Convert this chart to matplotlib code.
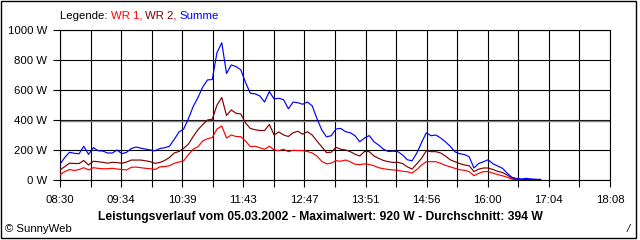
import matplotlib
matplotlib.use("Agg")
import matplotlib.pyplot as plt
from matplotlib.patches import Rectangle
import numpy as np

# ---- data (5-minute samples starting 08:30) ----
start_time = "08:30"
step_min = 5
summe = [105, 150, 185, 178, 175, 225, 171, 216, 195, 193, 180, 180, 200, 175, 185, 210, 220, 212, 206, 200,
         195, 210, 215, 225, 270, 320, 340, 410, 490, 550, 620, 667, 670, 850, 915, 710, 767, 756, 735, 650,
         578, 575, 560, 520, 590, 540, 545, 535, 475, 520, 515, 505, 520, 495, 410, 335, 288, 295, 340, 344,
         322, 315, 295, 255, 280, 296, 255, 232, 205, 190, 192, 189, 167, 135, 128, 180, 250, 315, 295, 300,
         280, 255, 225, 188, 175, 170, 155, 80, 110, 122, 135, 108, 93, 78, 45, 18, 10, 7, 11, 7, 5, 4]
wr2 = [67, 89, 112, 110, 110, 130, 100, 125, 122, 118, 112, 118, 116, 111, 120, 133, 133, 133, 128, 122,
       111, 117, 130, 150, 180, 190, 211, 240, 290, 335, 370, 400, 405, 500, 550, 430, 467, 445, 440, 380,
       344, 335, 330, 330, 370, 300, 320, 300, 290, 315, 325, 305, 322, 300, 260, 222, 183, 185, 218, 205,
       200, 189, 172, 160, 190, 189, 160, 144, 130, 122, 117, 118, 110, 88, 73, 108, 145, 195, 189, 189,
       180, 160, 135, 122, 110, 100, 95, 56, 72, 80, 80, 70, 58, 50, 33, 12, 5, 3, 3, 2, 2, 2]
wr1 = [35, 56, 70, 63, 70, 82, 67, 82, 78, 75, 75, 78, 73, 70, 67, 85, 86, 82, 78, 75,
       70, 88, 90, 95, 111, 120, 128, 170, 205, 222, 260, 275, 283, 340, 360, 280, 300, 290, 289, 260,
       222, 225, 215, 205, 225, 200, 196, 205, 189, 198, 196, 196, 190, 180, 160, 125, 108, 112, 129, 125,
       133, 122, 105, 103, 107, 103, 95, 82, 75, 70, 67, 64, 58, 55, 46, 70, 100, 122, 122, 122,
       111, 98, 88, 78, 68, 65, 56, 29, 44, 56, 56, 46, 36, 28, 18, 6, 3, 2, 2, 2, 2, 2]
average_w = 394
x_labels = ["08:30", "09:34", "10:39", "11:43", "12:47", "13:51", "14:56", "16:00", "17:04", "18:08"]
y_ticks = [0, 200, 400, 600, 800, 1000]
y_labels = ["0 W", "200 W", "400 W", "600 W", "800 W", "1000 W"]
legend_parts = [("Legende: ", "black"), ("WR 1, ", "#FF0000"), ("WR 2, ", "#800000"), ("Summe", "#0000FF")]
title = "Leistungsverlauf vom 05.03.2002 - Maximalwert: 920 W - Durchschnitt: 394 W"

def to_min(s):
    h, m = s.split(":")
    return int(h) * 60 + int(m)

t0 = to_min(start_time)
t = np.arange(len(summe)) * step_min
span = to_min(x_labels[-1]) - t0

plt.rcParams['font.family'] = ['Liberation Sans', 'DejaVu Sans']
fig = plt.figure(figsize=(6.4, 2.4), dpi=100)
fig.patch.set_facecolor("white")
ax = fig.add_axes([60 / 640, 1 - 180 / 240, 550 / 640, 150 / 240])

ax.set_xlim(0, span)
ax.set_ylim(0, 1000)

n_int = 2 * (len(x_labels) - 1)
major = [span * k / (len(x_labels) - 1) for k in range(len(x_labels))]
minor = [span * (2 * k + 1) / n_int for k in range(len(x_labels) - 1)]
ax.set_xticks(major)
ax.set_xticklabels(x_labels)
ax.set_xticks(minor, minor=True)
ax.set_yticks(y_ticks)
ax.set_yticklabels(y_labels)

ax.grid(True, which="both", color="black", linewidth=0.8)
ax.set_axisbelow(True)
ax.tick_params(axis="both", which="both", length=5, width=0.8, color="black",
               labelsize=8.2, direction="out")
ax.tick_params(axis="x", pad=6)
ax.tick_params(axis="y", pad=4)
for sp in ax.spines.values():
    sp.set_linewidth(0.8)
    sp.set_color("black")

ax.axhline(average_w, color="#808080", linewidth=1.0, zorder=2.5)

ax.plot(t, wr1, color="#FF0000", linewidth=0.85, zorder=3)
ax.plot(t, wr2, color="#800000", linewidth=0.85, zorder=3)
ax.plot(t, summe, color="#0000FF", linewidth=0.85, zorder=3)

# legend line, pieces placed one after another
fs = 8.2
fig.canvas.draw()
renderer = fig.canvas.get_renderer()
xpos = 60
for txt, col in legend_parts:
    tx = fig.text(xpos / 640, 1 - 16 / 240, txt, color=col, fontsize=fs, va="center", ha="left")
    bb = tx.get_window_extent(renderer=renderer)
    xpos += bb.width

fig.text(320 / 640, 1 - 217 / 240, title, fontsize=8.7, fontweight="bold", ha="center", va="center")
fig.text(5 / 640, 1 - 229 / 240, "\u00a9 SunnyWeb", fontsize=fs, ha="left", va="center")
fig.text(628 / 640, 1 - 229 / 240, "/", fontsize=fs, ha="center", va="center", style="italic")

fig.patches.append(Rectangle((0.5 / 640, 1 - 237.5 / 240), 635.5 / 640, 237 / 240,
                             transform=fig.transFigure, fill=False, edgecolor="black", linewidth=1.0))

fig.savefig("out.png", dpi=100)
